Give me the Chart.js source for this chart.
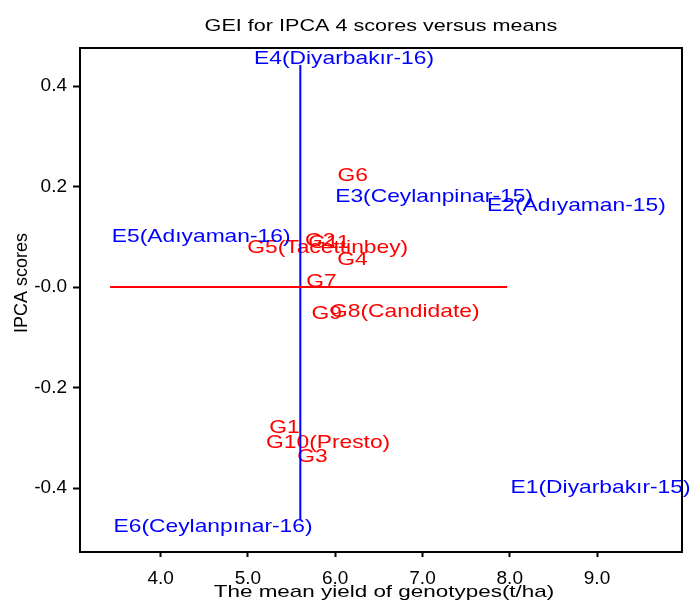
<!DOCTYPE html>
<html>
<head>
<meta charset="utf-8">
<script src="https://cdn.jsdelivr.net/npm/chart.js@4.4.1/dist/chart.umd.min.js"></script>
<style>
  html, body { margin: 0; padding: 0; background: #fff; }
  #wrap { position: relative; width: 692px; height: 601px; }
</style>
</head>
<body>
<div id="wrap"><canvas id="c"></canvas></div>
<script>
// ---- data ----
const chartTitle = "GEI for IPCA 4 scores versus means";
const xTitle = "The mean yield of genotypes(t/ha)";
const yTitle = "IPCA scores";

const envLabels = ["E1(Diyarbakır-15)", "E2(Adıyaman-15)", "E3(Ceylanpinar-15)", "E4(Diyarbakır-16)", "E5(Adıyaman-16)", "E6(Ceylanpınar-16)"];
const envMeans  = [8.01, 7.74, 6.00, 5.07, 3.44, 3.46];
const envIPCA   = [-0.399, 0.161, 0.180, 0.454, 0.100, -0.476];

const genLabels = ["G1", "G2", "G3", "G4", "G5(Tacettinbey)", "G6", "G7", "G8(Candidate)", "G9", "G10(Presto)", "G11"];
const genMeans  = [5.245, 5.654, 5.565, 6.024, 4.992, 6.027, 5.669, 5.94, 5.728, 5.207, 5.69];
const genIPCA   = [-0.279, 0.0925, -0.338, 0.054, 0.078, 0.221, 0.010, -0.050, -0.054, -0.310, 0.089];

// reference lines: grand mean (vertical) and zero IPCA (horizontal)
const vLineX = [5.60, 5.60];
const vLineY = [-0.464, 0.442];
const hLineX = [3.42, 7.97];
const hLineY = [0, 0];

const xTicks = [4, 5, 6, 7, 8, 9];
const xTickLabels = ["4.0", "5.0", "6.0", "7.0", "8.0", "9.0"];
const yTicks = [-0.4, -0.2, 0, 0.2, 0.4];
const yTickLabels = ["-0.4", "-0.2", "-0.0", "0.2", "0.4"];

// ---- styling ----
const FONT = "'Liberation Sans', Arial, sans-serif";
const BLUE = "#0000ff";
const RED = "#ff0000";

function pts(xs, ys) { return xs.map((x, i) => ({ x: x, y: ys[i] })); }

function drawText(ctx, text, x, y, o) {
  ctx.save();
  ctx.font = o.size + "px " + FONT;
  ctx.fillStyle = o.color || "#000";
  ctx.textAlign = o.align || "left";
  ctx.textBaseline = o.baseline || "middle";
  ctx.translate(x, y);
  if (o.rotate) ctx.rotate(o.rotate);
  ctx.scale(o.sx || 1, 1);
  ctx.fillText(text, 0, 0);
  ctx.restore();
}

const decor = {
  id: "decor",
  beforeDatasetsDraw(chart) {
    const ctx = chart.ctx;
    chart.data.datasets.forEach((ds, i) => {
      if (!ds.pointLabels) return;
      const meta = chart.getDatasetMeta(i);
      meta.data.forEach((el, j) => {
        drawText(ctx, ds.pointLabels[j], el.x, el.y, { size: 19, sx: 1.2, color: ds.labelColor, align: "left", baseline: "middle" });
      });
    });
  },
  afterDatasetsDraw(chart) {
    const ctx = chart.ctx, a = chart.chartArea;
    ctx.save();
    ctx.strokeStyle = "#000";
    ctx.lineWidth = 2;
    ctx.beginPath();
    ctx.moveTo(a.left, a.top); ctx.lineTo(a.right, a.top);
    ctx.lineTo(a.right, a.bottom); ctx.lineTo(a.left, a.bottom);
    ctx.closePath();
    ctx.stroke();
    ctx.restore();
  },
  afterDraw(chart) {
    const ctx = chart.ctx, a = chart.chartArea;
    const cx = (a.left + a.right) / 2;
    drawText(ctx, chartTitle, cx, 31, { size: 17, sx: 1.27, align: "center", baseline: "alphabetic" });
    drawText(ctx, xTitle, cx + 3, a.bottom + 44.5, { size: 17, sx: 1.32, align: "center", baseline: "alphabetic" });
    drawText(ctx, yTitle, 27, 283, { size: 18, sx: 1.0, align: "center", baseline: "alphabetic", rotate: -Math.PI / 2 });
  }
};

new Chart(document.getElementById("c"), {
  type: "scatter",
  data: {
    datasets: [
      { label: "Genotypes", data: pts(genMeans, genIPCA), pointRadius: 0, pointHoverRadius: 0, pointLabels: genLabels, labelColor: RED },
      { label: "Environments", data: pts(envMeans, envIPCA), pointRadius: 0, pointHoverRadius: 0, pointLabels: envLabels, labelColor: BLUE },
      { label: "Zero", data: pts(hLineX, hLineY), showLine: true, borderColor: RED, borderWidth: 2, pointRadius: 0, fill: false },
      { label: "Mean", data: pts(vLineX, vLineY), showLine: true, borderColor: BLUE, borderWidth: 2, pointRadius: 0, fill: false }
    ]
  },
  options: {
    responsive: true,
    maintainAspectRatio: false,
    animation: false,
    devicePixelRatio: 1,
    layout: { padding: { top: 48, right: 10, left: 0, bottom: 0 } },
    plugins: { legend: { display: false }, tooltip: { enabled: false }, title: { display: false } },
    scales: {
      x: {
        type: "linear",
        min: 3.075, max: 9.974,
        afterFit(s) { s.height = 49; },
        afterBuildTicks(s) { s.ticks = xTicks.map(v => ({ value: v })); },
        grid: { drawOnChartArea: false, drawTicks: true, tickLength: 5, tickWidth: 2, tickColor: "#000" },
        border: { display: false },
        ticks: { color: "#000", padding: 10, maxRotation: 0, autoSkip: false, font: { family: FONT, size: 19 },
                 callback: (v, i) => xTickLabels[i] }
      },
      y: {
        type: "linear",
        min: -0.527, max: 0.4756,
        afterFit(s) { s.width = 80; },
        afterBuildTicks(s) { s.ticks = yTicks.map(v => ({ value: v })); },
        grid: { drawOnChartArea: false, drawTicks: true, tickLength: 7, tickWidth: 2, tickColor: "#000" },
        border: { display: false },
        ticks: { color: "#000", padding: 6, autoSkip: false, font: { family: FONT, size: 19 },
                 callback: (v, i) => yTickLabels[i] }
      }
    }
  },
  plugins: [decor]
});
</script>
</body>
</html>
